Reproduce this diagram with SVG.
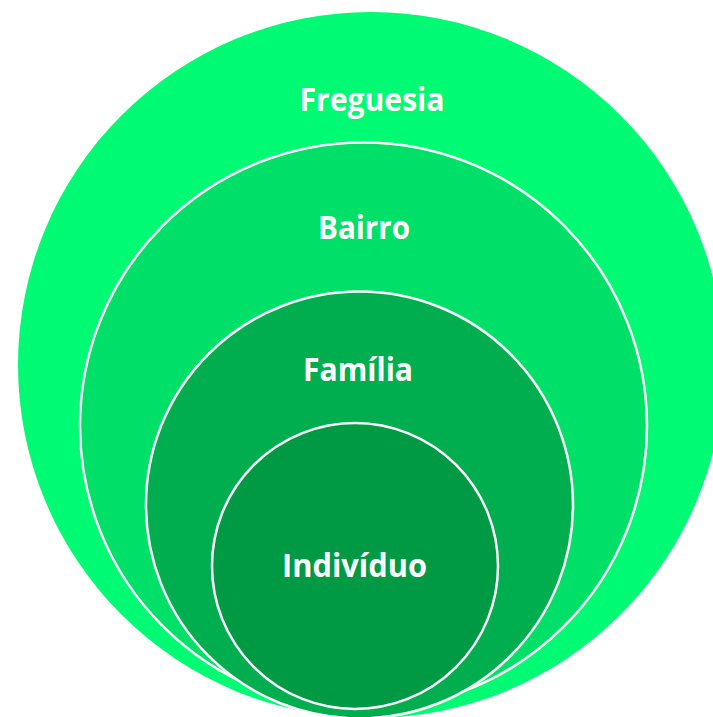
<svg xmlns="http://www.w3.org/2000/svg" width="713" height="717" viewBox="0 0 713 717">
<style>
.lbl{font-family:"Open Sans","Liberation Sans",sans-serif;font-weight:bold;font-size:32px;fill:#ffffff;text-anchor:middle}
.ring{stroke:#ffffff;stroke-width:2.5}
</style>
<rect width="713" height="717" fill="#ffffff"/>
<g id="freguesia">
<circle cx="371" cy="365" r="353" fill="#00FA74"/>
<text class="lbl" x="372" y="111" textLength="145" lengthAdjust="spacingAndGlyphs">Freguesia</text>
</g>
<g id="bairro">
<circle class="ring" cx="363.5" cy="426" r="283.5" fill="#00DF68"/>
<text class="lbl" x="364" y="239" textLength="92" lengthAdjust="spacingAndGlyphs">Bairro</text>
</g>
<g id="familia">
<circle class="ring" cx="359.5" cy="505" r="213.5" fill="#00AE50"/>
<text class="lbl" x="358" y="381" textLength="110" lengthAdjust="spacingAndGlyphs">Família</text>
</g>
<g id="individuo">
<circle class="ring" cx="355" cy="566" r="143" fill="#009944"/>
<text class="lbl" x="354.5" y="577" textLength="145" lengthAdjust="spacingAndGlyphs">Indivíduo</text>
</g>
<g id="connectors"/>
</svg>
